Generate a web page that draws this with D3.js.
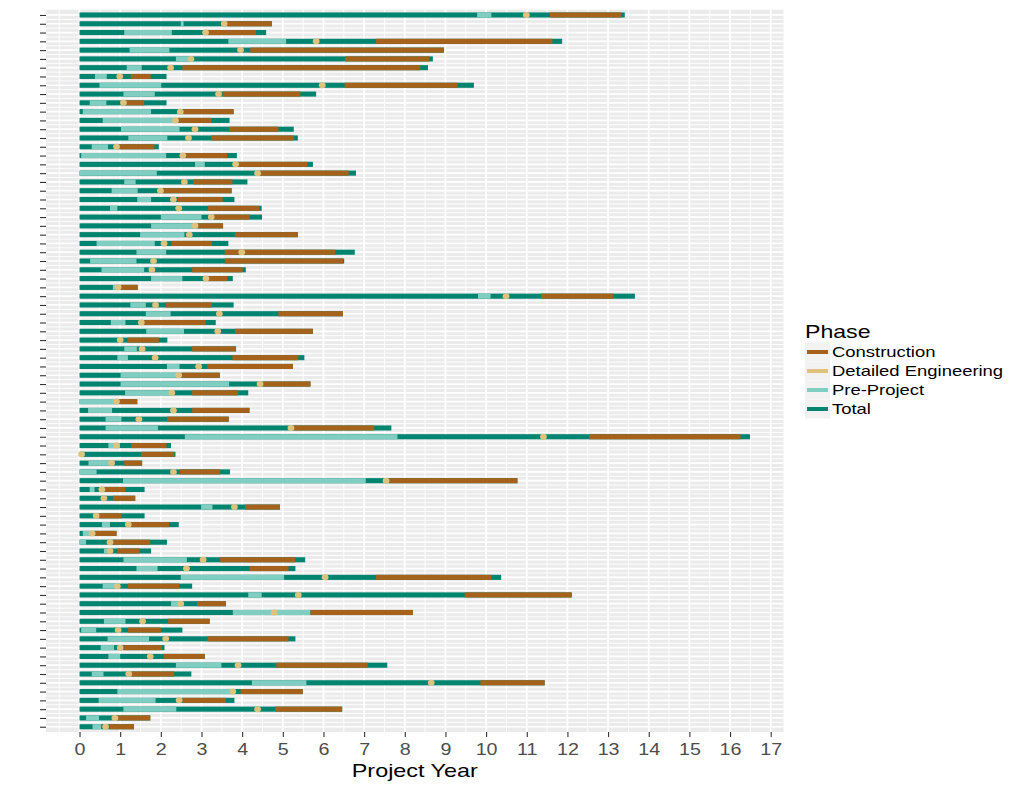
<!DOCTYPE html>
<html><head><meta charset="utf-8">
<script src="https://cdn.jsdelivr.net/npm/d3@7"></script>
<style>body{margin:0;background:#fff}</style>
</head><body><svg id="c" width="1024" height="789"></svg>
<script>
// ---- data (years) ----
const projects = d3.range(1, 83);
const total    = [13.41,4.73,4.59,11.87,8.96,8.69,8.57,2.14,9.70,5.82,2.14,3.79,3.69,5.27,5.37,1.95,3.87,5.74,6.80,4.13,3.74,3.81,4.48,4.49,3.53,5.37,3.66,6.77,6.51,4.09,3.77,1.43,13.66,3.79,6.48,3.35,5.74,2.16,3.85,5.53,5.25,3.45,5.68,4.15,1.42,4.18,3.67,7.67,16.49,2.25,2.36,1.54,3.70,10.77,1.60,1.37,4.93,1.60,2.44,0.91,2.15,1.76,5.55,5.31,10.37,2.77,12.11,3.60,8.20,3.20,2.53,5.31,2.09,3.08,7.57,2.75,11.44,5.49,3.81,6.46,1.74,1.34];
const preStart = [9.78,2.49,1.10,3.66,1.23,2.37,1.16,0.38,0.49,1.08,0.25,0.08,0.57,1.02,1.20,0.30,0.04,2.84,0.00,1.10,0.79,1.42,0.75,2.00,1.76,1.49,0.42,1.40,0.26,0.54,1.76,0.82,9.80,1.25,1.63,0.77,1.64,0.97,1.10,0.93,2.15,1.01,1.01,1.12,0.00,0.21,0.64,0.64,2.59,0.71,0.00,0.22,0.00,1.07,0.25,0.55,2.99,0.36,0.55,0.08,0.00,0.60,1.08,1.40,2.49,0.57,4.15,2.25,3.77,0.60,0.04,0.69,0.52,0.71,2.37,0.30,4.24,0.93,0.47,1.08,0.16,0.32];
const preEnd   = [10.13,2.56,2.27,5.08,2.21,2.77,1.53,0.67,2.01,1.85,0.66,1.76,2.36,2.46,2.16,0.70,2.13,3.08,1.90,1.38,1.43,1.76,0.93,3.00,2.84,2.58,1.85,2.13,1.40,1.59,2.53,0.96,10.11,1.63,2.24,1.13,2.57,1.02,1.41,1.19,2.46,2.44,3.68,2.27,0.91,0.80,1.03,1.93,7.82,0.99,0.05,0.82,0.42,7.04,0.37,0.62,3.27,0.44,0.75,0.31,0.16,0.75,2.64,1.92,5.03,0.97,4.48,2.51,5.68,1.13,0.41,1.71,0.85,1.00,3.49,0.59,5.58,3.77,1.87,2.38,0.48,0.53];
const detEng   = [10.99,3.56,3.10,5.82,3.96,2.74,2.24,0.99,5.97,3.42,1.08,2.48,2.36,2.84,2.68,0.91,2.54,3.84,4.38,2.58,1.99,2.31,2.44,3.24,2.84,2.70,2.08,3.99,1.82,1.78,3.11,0.95,10.49,1.87,3.44,1.52,3.40,1.00,1.54,1.86,2.93,2.44,4.44,2.27,0.91,2.31,1.46,5.20,11.41,0.91,0.05,0.79,2.31,7.54,0.55,0.60,3.81,0.41,1.20,0.31,0.75,0.75,3.04,2.63,6.04,0.93,5.38,2.49,4.79,1.55,0.95,2.12,1.00,1.74,3.90,1.21,8.65,3.77,2.45,4.38,0.87,0.64];
const conStart = [11.57,3.65,3.16,7.29,4.20,6.53,2.53,1.26,6.52,3.52,1.12,2.57,2.42,3.68,3.24,0.99,2.62,3.89,4.45,2.80,2.05,2.42,3.16,3.30,2.91,3.82,2.26,3.57,3.57,2.77,3.16,1.01,11.35,2.12,4.89,1.59,3.82,1.18,2.77,3.76,3.14,2.51,4.51,2.77,0.98,2.77,2.15,5.27,12.53,1.27,1.51,1.10,2.47,7.62,0.62,0.82,4.07,0.49,1.27,0.38,0.82,0.93,3.46,4.18,7.29,1.19,9.47,2.89,5.68,2.18,1.19,3.15,1.10,2.07,4.84,1.29,9.86,3.96,2.53,4.81,0.93,0.73];
const conEnd   = [13.32,4.73,4.34,11.63,8.96,8.60,8.38,1.75,9.30,5.43,1.59,3.79,3.24,4.89,5.27,1.84,3.63,5.60,6.62,3.76,3.74,3.52,4.42,4.18,3.53,5.37,3.26,6.29,6.48,4.01,3.63,1.43,13.13,3.26,6.48,3.10,5.74,1.95,3.85,5.38,5.25,3.45,5.68,3.90,1.42,4.18,3.67,7.25,16.26,2.14,2.33,1.54,3.46,10.77,1.12,1.37,4.93,1.03,2.20,0.91,1.74,1.48,5.31,5.14,10.13,2.45,12.09,3.60,8.20,3.20,2.00,5.14,2.03,3.08,7.09,2.33,11.44,5.49,3.60,6.46,1.74,1.34];
const xTicks = d3.range(0, 18);
const phases = ["Construction", "Detailed Engineering", "Pre-Project", "Total"];
const phaseColors = ["#a6611a", "#dfc27d", "#80cdc1", "#018571"];

// ---- layout ----
const svg = d3.select("#c");
const P = {left: 46, right: 783.5, top: 9.7, bottom: 732};
const SX = 1.23; // horizontal text stretch of the reference
const maxT = d3.max(total);
const x = d3.scaleLinear().domain([-0.05 * maxT, maxT * 1.05]).range([P.left, P.right]);
const y = d3.scalePoint().domain(projects).range([P.top, P.bottom]).padding(0.6);
const color = d3.scaleOrdinal().domain(phases).range(phaseColors);
const step = y.step();

// panel
svg.append("rect").attr("x", P.left).attr("y", P.top)
  .attr("width", P.right - P.left).attr("height", P.bottom - P.top).attr("fill", "#ebebeb");

const grid = svg.append("g");
grid.selectAll(".vmin").data(d3.range(-0.5, 17.5, 1)).join("line")
  .attr("x1", d => x(d)).attr("x2", d => x(d)).attr("y1", P.top).attr("y2", P.bottom)
  .attr("stroke", "#fff").attr("stroke-width", 0.9);
grid.selectAll(".hmin").data(projects.slice(0, -1)).join("line")
  .attr("x1", P.left).attr("x2", P.right)
  .attr("y1", d => y(d) + step / 2).attr("y2", d => y(d) + step / 2)
  .attr("stroke", "#fff").attr("stroke-width", 0.9);
grid.selectAll(".vmaj").data(xTicks).join("line")
  .attr("x1", d => x(d)).attr("x2", d => x(d)).attr("y1", P.top).attr("y2", P.bottom)
  .attr("stroke", "#fff").attr("stroke-width", 1.7);
grid.selectAll(".hmaj").data(projects).join("line")
  .attr("x1", P.left).attr("x2", P.right)
  .attr("y1", d => y(d)).attr("y2", d => y(d))
  .attr("stroke", "#fff").attr("stroke-width", 1.7);

const BH = 5.1;
const rows = projects.map((p, i) => ({p, t: total[i], ps: preStart[i], pe: preEnd[i], d: detEng[i], cs: conStart[i], ce: conEnd[i]}));
const marks = svg.append("g");
function seg(cls, a, b, col) {
  marks.selectAll("." + cls).data(rows).join("rect").attr("class", cls)
    .attr("x", d => x(a(d))).attr("width", d => Math.max(0, x(b(d)) - x(a(d))))
    .attr("y", d => y(d.p) - BH / 2).attr("height", BH).attr("fill", col);
}
seg("tot", d => 0, d => d.t, color("Total"));
seg("pre", d => d.ps, d => d.pe, color("Pre-Project"));
seg("con", d => d.cs, d => d.ce, color("Construction"));
marks.selectAll(".de").data(rows).join("ellipse").attr("class", "de")
  .attr("cx", d => x(d.d)).attr("cy", d => y(d.p)).attr("rx", 3.4).attr("ry", 3.0)
  .attr("fill", color("Detailed Engineering"));

// axes
const xAxis = svg.append("g").attr("transform", `translate(0,${P.bottom})`)
  .call(d3.axisBottom(x).tickValues(xTicks).tickSize(5).tickPadding(3).tickFormat(d3.format("d")));
xAxis.select(".domain").remove();
xAxis.selectAll(".tick line").attr("stroke", "#333").attr("stroke-width", 1.1);
xAxis.selectAll(".tick text").attr("fill", "#4d4d4d").attr("font-size", 16)
  .attr("font-family", "Liberation Sans, Arial, sans-serif")
  .attr("y", null).attr("dy", null)
  .attr("transform", `translate(0,22.5) scale(${SX},1)`);

const yAxis = svg.append("g").attr("transform", `translate(${P.left},0)`)
  .call(d3.axisLeft(y).tickSize(6).tickFormat(""));
yAxis.select(".domain").remove();
yAxis.selectAll(".tick line").attr("stroke", "#333").attr("stroke-width", 1.1);

function stretchedText(g, tx, ty, txt, size, fill, anchor) {
  g.append("text").attr("transform", `translate(${tx},${ty}) scale(${SX},1)`)
    .attr("font-family", "Liberation Sans, Arial, sans-serif").attr("font-size", size)
    .attr("fill", fill).attr("text-anchor", anchor || "start").text(txt);
}
stretchedText(svg, (P.left + P.right) / 2, 777, "Project Year", 19, "#000", "middle");

// legend
const lg = svg.append("g");
stretchedText(lg, 805, 338, "Phase", 18.8, "#000");
phases.forEach((ph, i) => {
  const cy = 352 + i * 19;
  lg.append("rect").attr("x", 805).attr("y", cy - 9.5).attr("width", 25).attr("height", 19).attr("fill", "#f2f2f2");
  lg.append("line").attr("x1", 807).attr("x2", 828).attr("y1", cy).attr("y2", cy)
    .attr("stroke", color(ph)).attr("stroke-width", 4);
  stretchedText(lg, 832, cy + 5.3, ph, 15, "#000");
});
</script></body></html>
